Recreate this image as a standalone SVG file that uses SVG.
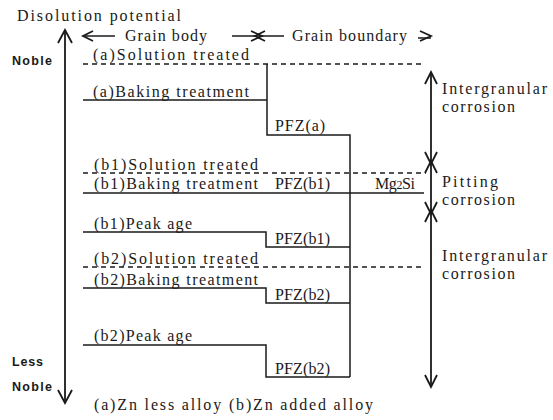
<svg xmlns="http://www.w3.org/2000/svg" width="553" height="420" viewBox="0 0 553 420">
<style>
.t{font-family:"Liberation Serif","Times New Roman",serif;font-size:16px;fill:#1a1a1a}
.s{font-family:"Liberation Sans",Arial,sans-serif;font-size:12.5px;font-weight:bold;fill:#1a1a1a}
.ln{stroke:#1a1a1a;stroke-width:1.5;fill:none}
.ds{stroke:#1a1a1a;stroke-width:1.4;fill:none;stroke-dasharray:5 4}
.ah{stroke:#1a1a1a;stroke-width:1.8;fill:none;stroke-linejoin:miter}
</style>
<rect width="553" height="420" fill="#fff"/>

<g id="axis">
  <line class="ln" x1="65" y1="31" x2="65" y2="402" style="stroke-width:1.8"/>
  <polyline class="ah" points="58,43 65,30 72,43"/>
  <polyline class="ah" points="58,390 65,403 72,390"/>
  <text class="t" x="17" y="21" textLength="164" lengthAdjust="spacing">Disolution potential</text>
  <text class="s" x="12" y="65" textLength="40" lengthAdjust="spacing">Noble</text>
  <text class="s" x="12" y="366" textLength="31" lengthAdjust="spacing">Less</text>
  <text class="s" x="12" y="391" textLength="40" lengthAdjust="spacing">Noble</text>
</g>

<g id="header">
  <line class="ln" x1="83" y1="36" x2="115" y2="36"/>
  <polyline class="ah" points="93,31 83,36 93,41"/>
  <text class="t" x="125" y="41" textLength="82" lengthAdjust="spacing">Grain body</text>
  <line class="ln" x1="232" y1="36" x2="284" y2="36"/>
  <polyline class="ah" points="251,31 262,36 251,41"/>
  <polyline class="ah" points="265,31 255,36 265,41"/>
  <text class="t" x="292" y="41" textLength="115" lengthAdjust="spacing">Grain boundary</text>
  <line class="ln" x1="418" y1="38" x2="431" y2="38"/>
  <polyline class="ah" points="420,31 431,36 420,41"/>
</g>

<g id="connectors">
  <!-- (a) -->
  <line class="ds" x1="83" y1="64" x2="424" y2="64"/>
  <polyline class="ln" points="83,100 267,100"/>
  <polyline class="ln" points="267,64 267,135 350,135 350,377"/>
  <!-- (b1) -->
  <line class="ds" x1="83" y1="173" x2="426" y2="173"/>
  <line class="ln" x1="83" y1="193" x2="424" y2="193"/>
  <polyline class="ln" points="83,232 266,232 266,247 350,247"/>
  <!-- (b2) -->
  <line class="ds" x1="83" y1="267" x2="424" y2="267"/>
  <polyline class="ln" points="83,288 266,288 266,303 350,303"/>
  <polyline class="ln" points="83,345 266,345 266,377 350,377"/>
</g>

<g id="line-labels">
  <text class="t" x="93" y="60" textLength="156" lengthAdjust="spacing">(a)Solution treated</text>
  <text class="t" x="93" y="97" textLength="156" lengthAdjust="spacing">(a)Baking treatment</text>
  <text class="t" x="275" y="131" textLength="50" lengthAdjust="spacing">PFZ(a)</text>
  <text class="t" x="94" y="170" textLength="164" lengthAdjust="spacing">(b1)Solution treated</text>
  <text class="t" x="94" y="189" textLength="164" lengthAdjust="spacing">(b1)Baking treatment</text>
  <text class="t" x="275" y="189" textLength="55" lengthAdjust="spacing">PFZ(b1)</text>
  <text class="t" x="375" y="189" textLength="40" lengthAdjust="spacing">Mg<tspan font-size="12">2</tspan>Si</text>
  <text class="t" x="94" y="229" textLength="98" lengthAdjust="spacing">(b1)Peak age</text>
  <text class="t" x="275" y="244" textLength="55" lengthAdjust="spacing">PFZ(b1)</text>
  <text class="t" x="94" y="264" textLength="164" lengthAdjust="spacing">(b2)Solution treated</text>
  <text class="t" x="94" y="285" textLength="164" lengthAdjust="spacing">(b2)Baking treatment</text>
  <text class="t" x="275" y="300" textLength="55" lengthAdjust="spacing">PFZ(b2)</text>
  <text class="t" x="94" y="341" textLength="98" lengthAdjust="spacing">(b2)Peak age</text>
  <text class="t" x="275" y="374" textLength="55" lengthAdjust="spacing">PFZ(b2)</text>
  <text class="t" x="94" y="410" textLength="279" lengthAdjust="spacing">(a)Zn less alloy (b)Zn added alloy</text>
</g>

<g id="corrosion">
  <line class="ln" x1="431" y1="73" x2="431" y2="386" style="stroke-width:1.8"/>
  <polyline class="ah" points="425,84 431,72 437,84"/>
  <polyline class="ah" points="425,152 431,164 437,152"/>
  <polyline class="ah" points="425,173 431,161 437,173"/>
  <polyline class="ah" points="425,202 431,214 437,202"/>
  <polyline class="ah" points="425,222 431,210 437,222"/>
  <polyline class="ah" points="425,375 431,387 437,375"/>
  <text class="t" x="442" y="94" textLength="105" lengthAdjust="spacing">Intergranular</text>
  <text class="t" x="442" y="112" textLength="73" lengthAdjust="spacing">corrosion</text>
  <text class="t" x="442" y="187" textLength="56" lengthAdjust="spacing">Pitting</text>
  <text class="t" x="442" y="205" textLength="73" lengthAdjust="spacing">corrosion</text>
  <text class="t" x="442" y="261" textLength="105" lengthAdjust="spacing">Intergranular</text>
  <text class="t" x="442" y="279" textLength="73" lengthAdjust="spacing">corrosion</text>
</g>
</svg>
